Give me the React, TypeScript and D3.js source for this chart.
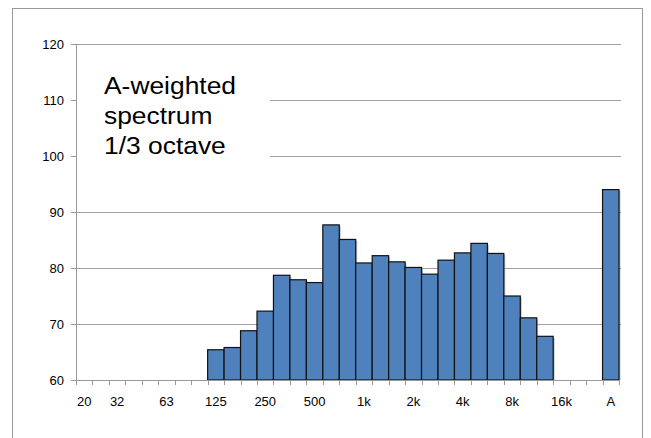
import React from 'react';
import * as d3 from 'd3';

// 1/3 octave bands, plus a blank slot and the overall A-weighted level
const bands = ['20', '25', '32', '40', '50', '63', '80', '100', '125', '160', '200', '250', '315', '400', '500', '630', '800', '1k', '1.25k', '1.6k', '2k', '2.5k', '3.15k', '4k', '5k', '6.3k', '8k', '10k', '12.5k', '16k', '20k', 'gap', 'A'];
const shownLabels = ['20', '32', '63', '125', '250', '500', '1k', '2k', '4k', '8k', '16k', 'A'];
const levels: (number | null)[] = [
  null, null, null, null, null, null, null, null,
  65.4, 65.8, 68.8, 72.3, 78.7, 77.9, 77.4, 87.7, 85.1, 80.9, 82.2, 81.1, 80.1,
  78.9, 81.4, 82.7, 84.4, 82.6, 75.0, 71.1, 67.8,
  null, null, null, 94.0,
];
const yTicks = [60, 70, 80, 90, 100, 110, 120];
const titleLines = ['A-weighted', 'spectrum', '1/3 octave'];

const W = 651;
const H = 438;

const App = () => {
  const x = d3.scaleBand<string>().domain(bands).range([76, 619]).padding(0);
  const y = d3.scaleLinear().domain([60, 120]).range([380, 44]);
  const bw = x.bandwidth();
  const font = 'Arial, "Liberation Sans", sans-serif';

  return (
    <svg width={W} height={H} style={{ position: 'absolute', left: 0, top: 0, background: '#fff' }}>
      <rect x={12.5} y={8.5} width={630} height={450} fill="#fff" stroke="#999" />

      {/* grid */}
      {yTicks.filter(t => t > 60).map(t => (
        <line key={t} x1={76} x2={621} y1={Math.round(y(t)) + 0.5} y2={Math.round(y(t)) + 0.5} stroke="#a0a0a0" />
      ))}

      {/* title box hides the grid under the text */}
      <rect x={77} y={62} width={193} height={110} fill="#fff" />
      <text fontFamily={font} fontSize={24} fill="#000" transform="translate(104,0) scale(1.1,1)">
        {titleLines.map((l, i) => (
          <tspan key={l} x={0} y={94 + i * 30.2}>{l}</tspan>
        ))}
      </text>

      {/* bars */}
      {bands.map((b, i) => levels[i] == null ? null : (
        <g key={b}>
          <rect x={x(b)! + 1.5} y={y(levels[i]!) + 1.5} width={bw} height={y(60) - y(levels[i]!) - 1.5} fill="#8a8a8a" opacity={0.5} />
          <rect x={x(b)!} y={y(levels[i]!)} width={bw} height={y(60) - y(levels[i]!)} fill="#4f81bd" stroke="#111" strokeWidth={1.2} />
        </g>
      ))}

      {/* y axis */}
      <line x1={76.5} x2={76.5} y1={44} y2={380} stroke="#999" />
      {yTicks.map(t => (
        <g key={t}>
          <line x1={71} x2={76} y1={Math.round(y(t)) + 0.5} y2={Math.round(y(t)) + 0.5} stroke="#999" />
          <text x={64} y={y(t)} dy="0.35em" textAnchor="end" fontFamily={font} fontSize={13} fill="#000">{t}</text>
        </g>
      ))}

      {/* x axis */}
      <line x1={76} x2={620} y1={380.5} y2={380.5} stroke="#999" />
      {bands.map(b => (
        <line key={'t' + b} x1={Math.round(x(b)!) + 0.5} x2={Math.round(x(b)!) + 0.5} y1={380} y2={385} stroke="#999" />
      ))}
      <line x1={619.5} x2={619.5} y1={380} y2={385} stroke="#999" />
      {bands.filter(b => shownLabels.includes(b)).map(b => (
        <text key={'l' + b} x={x(b)! + bw / 2} y={406} textAnchor="middle" fontFamily={font} fontSize={13} fill="#000">{b}</text>
      ))}
    </svg>
  );
};

export default App;
